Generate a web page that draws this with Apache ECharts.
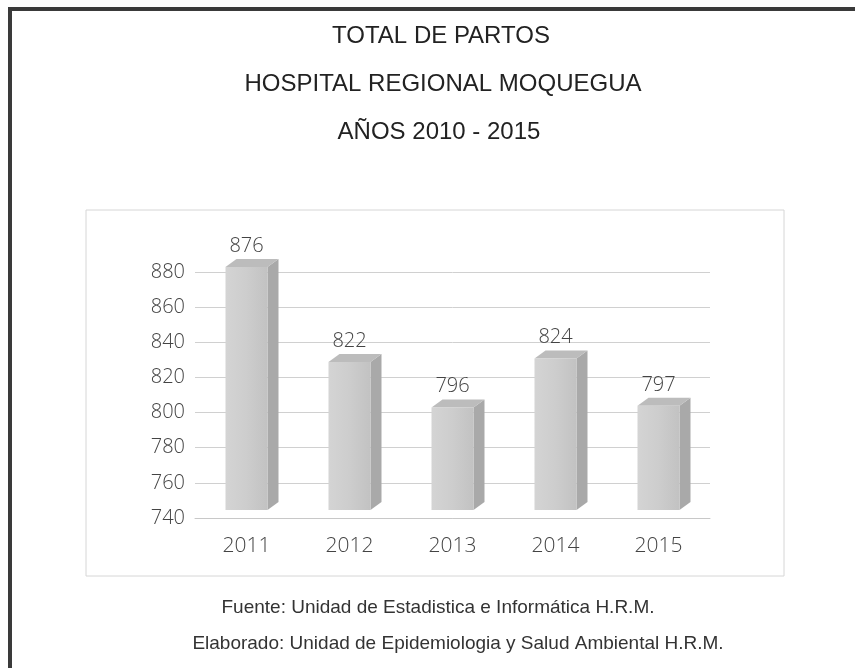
<!DOCTYPE html>
<html>
<head>
<meta charset="utf-8">
<script src="https://cdn.jsdelivr.net/npm/echarts@6/dist/echarts.min.js"></script>
<style>
  html, body { margin: 0; padding: 0; background: #fff; }
  #main { width: 855px; height: 668px; }
</style>
</head>
<body>
<div id="main"></div>
<script>
var years = ['2011', '2012', '2013', '2014', '2015'];
var partos = [876, 822, 796, 824, 797];
var yMin = 740, yMax = 880, yStep = 20;

var titleLines = ['TOTAL DE PARTOS', 'HOSPITAL REGIONAL MOQUEGUA', 'AÑOS 2010 - 2015'];
var footLines = [
  'Fuente: Unidad de Estadistica e Informática H.R.M.',
  'Elaborado: Unidad de Epidemiologia y Salud Ambiental H.R.M.'
];

var chart = echarts.init(document.getElementById('main'));

// fake 3D box: front face + right side + top (front sits a bit higher, like the excel perspective)
var depthX = 11, depthY = 8, barW = 42, lift = 12;

function renderBox(params, api) {
  var idx = api.value(0);
  var val = api.value(1);
  var top = api.coord([idx, val]);
  var base = api.coord([idx, yMin]);
  var x0 = top[0] - barW / 2, x1 = top[0] + barW / 2;
  var yT = top[1] - lift, yB = base[1] - 8;
  return {
    type: 'group',
    children: [
      {
        type: 'polygon',
        shape: { points: [[x1, yT], [x1 + depthX, yT - depthY], [x1 + depthX, yB - depthY], [x1, yB]] },
        style: { fill: '#a9a9a9' }
      },
      {
        type: 'polygon',
        shape: { points: [[x0, yT], [x0 + depthX, yT - depthY], [x1 + depthX, yT - depthY], [x1, yT]] },
        style: { fill: '#bcbcbc' }
      },
      {
        type: 'rect',
        shape: { x: x0, y: yT, width: barW, height: yB - yT },
        style: {
          fill: new echarts.graphic.LinearGradient(0, 0, 1, 0, [
            { offset: 0, color: '#d4d4d4' },
            { offset: 0.5, color: '#cdcdcd' },
            { offset: 1, color: '#c2c2c2' }
          ])
        }
      },
      {
        type: 'text',
        style: {
          x: top[0], y: yT - depthY - 3,
          text: String(val),
          align: 'center', verticalAlign: 'bottom',
          fill: '#444', font: '300 20px "Open Sans"'
        }
      }
    ]
  };
}

var titleCenters = [436, 438, 434];
var titles = titleLines.map(function (t, i) {
  return {
    text: t, left: titleCenters[i], textAlign: 'center', top: 19 + i * 48,
    textStyle: { fontFamily: 'Liberation Sans', fontSize: 24, fontWeight: 'normal', color: '#222' }
  };
});
var footCenters = [433, 453];
footLines.forEach(function (t, i) {
  titles.push({
    text: t, left: footCenters[i], textAlign: 'center', top: 593 + i * 36,
    textStyle: { fontFamily: 'Liberation Sans', fontSize: 19, fontWeight: 'normal', color: '#333' }
  });
});

var option = {
  backgroundColor: '#fff',
  animation: false,
  title: titles,
  graphic: [
    { type: 'polyline', shape: { points: [[10, 668], [10, 9], [855, 9]] },
      style: { stroke: '#3a3a3a', lineWidth: 4, fill: null } },
    { type: 'rect', shape: { x: 86, y: 210, width: 698, height: 366 },
      style: { stroke: '#d6d6d6', lineWidth: 1, fill: null } }
  ],
  grid: { left: 195, right: 145, top: 272, bottom: 150 },
  xAxis: {
    type: 'category',
    data: years,
    axisLine: { lineStyle: { color: '#c8c8c8' } },
    axisTick: { show: false },
    axisLabel: { color: '#444', fontFamily: 'Open Sans', fontWeight: 300, fontSize: 21, margin: 18 }
  },
  yAxis: {
    type: 'value',
    min: yMin, max: yMax, interval: yStep,
    axisLine: { show: false },
    axisTick: { show: false },
    axisLabel: { color: '#444', fontFamily: 'Open Sans', fontWeight: 300, fontSize: 20, margin: 10 },
    splitLine: { lineStyle: { color: '#d0d0d0', width: 1 } }
  },
  series: [{
    type: 'custom',
    renderItem: renderBox,
    data: partos.map(function (v, i) { return [i, v]; })
  }]
};

chart.setOption(option);
</script>
</body>
</html>
